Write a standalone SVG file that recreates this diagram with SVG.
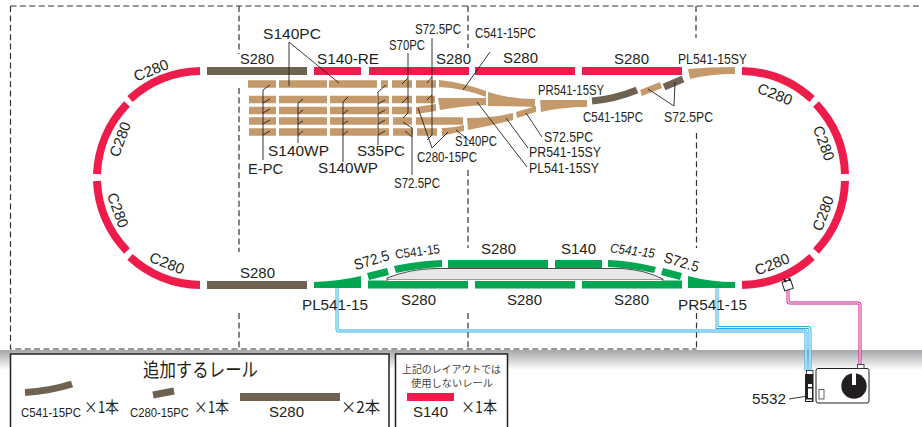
<svg xmlns="http://www.w3.org/2000/svg" width="922" height="427" viewBox="0 0 922 427">
<style>
text{font-family:"Liberation Sans",Arial,"Noto Sans CJK JP",sans-serif;fill:#231f20;font-size:15px}
.c{font-size:14px}
.m{text-anchor:middle}
.j{font-family:"Noto Sans CJK JP",sans-serif}
.tr{fill:none;stroke-width:8}
.red{stroke:#ee1c4b}.tan{stroke:#c49a6c}.br{stroke:#6f6252}.gr{stroke:#00a651}
.ftan{fill:#c49a6c}.fgr{fill:#00a651}
.d{fill:none;stroke:#333;stroke-width:1.2;stroke-dasharray:6 3.4}
.l{fill:none;stroke:#231f20;stroke-width:.9}
</style>
<defs>
<linearGradient id="band" x1="0" y1="0" x2="0" y2="1"><stop offset="0" stop-color="#a4a6a9"/><stop offset="1" stop-color="#fff"/></linearGradient>
</defs>
<rect width="922" height="427" fill="#fff"/>
<rect id="floor" x="0" y="350" width="922" height="20" fill="url(#band)"/>

<g id="frame">
<path class="d" d="M10.500 6H922M10.500 6V349H696.500M239 6V54M239 88V252M239 313V349M468 6V48M468 170V248M468 313V349M696 6V38M696.500 133V248M696.500 313V349"/>
</g>

<g id="oval-curves">
<path class="tr red" d="M200 71A107 107 0 0 0 130 99"/>
<path class="tr red" d="M127 104A107 107 0 0 0 97 174"/>
<path class="tr red" d="M97 181A107 107 0 0 0 127 251"/>
<path class="tr red" d="M130 257A107 107 0 0 0 200 285"/>
<path class="tr red" d="M742 71A107 107 0 0 1 812 99"/>
<path class="tr red" d="M816 104A107 107 0 0 1 845 174"/>
<path class="tr red" d="M845 181A107 107 0 0 1 816 251"/>
<path class="tr red" d="M812 257A107 107 0 0 1 742 285"/>
</g>

<g id="top-track">
<path class="tr br" d="M207 71H307"/>
<path class="tr red" d="M314 71H361M369 71H469M475 71H575M582 71H682"/>
<path class="ftan" d="M688 69Q710 67 735 67V74Q710 74 690 79Z"/>
</g>

<g id="yard">
<path class="tan" fill="none" stroke-width="7.600" d="M248 84H276M279 84H327M329 84H377M381 84H388M392 84H412M416 84H436"/>
<path class="tan" fill="none" stroke-width="7.400" d="M249 99.500H276M279 99.500H327M330 99.500H377M378 99.500H389M392 99.500H412M416 99.500H435"/>
<path class="tan" fill="none" stroke-width="7.400" d="M249 110.500H276M279 110.500H327M330 110.500H377M378 110.500H389M392 110.500H412"/>
<path class="tan" fill="none" stroke-width="7.600" d="M249 121H276M279 121H327M330 121H377M378 121H389M393 121H412M416 121H463"/>
<path class="tan" fill="none" stroke-width="7.600" d="M249 132H276M279 132H327M330 132H377M378 132H389M393 132H413M417 132H437"/>
<path class="ftan" d="M416 107L436 104V111L416 114Z"/>
<path class="ftan" d="M442 128Q452 128 464 125V131Q453 133 442 136Z"/>
<path class="ftan" d="M439 80Q465 83 486 91V97Q463 88 439 87Z"/>
<path class="ftan" d="M438 98Q465 98 486 98V105Q462 106 440 110Z"/>
<path class="ftan" d="M488 92Q510 99 535 99V107Q510 106 488 106Z"/>
<path class="ftan" d="M540 100Q565 100 587 100V107Q562 107 541 112Z"/>
<path class="ftan" d="M467 118Q492 118 513 113L513 120Q490 126 468 130Z"/>
<path class="ftan" d="M516 112L536 106V112L517 118Z"/>
<path class="br" fill="none" stroke-width="7" d="M592 101Q615 99 637 90"/>
<path class="ftan" d="M640 90L660 82L662 88L642 96Z"/>
<path class="br" fill="none" stroke-width="7" d="M664 87L683 79"/>
</g>

<g id="bottom-track">
<path class="tr br" d="M207 285H307"/>
<path class="fgr" d="M314 282Q340 281 361 276V288H314Z"/>
<path class="tr gr" d="M368 284.500H468M475 284.500H575M582 284.500H682"/>
<path class="fgr" d="M688 276Q710 282 735 282V288H688Z"/>
<path class="fgr" d="M367 273L387 268L389 275L369 280Z"/>
<path class="fgr" d="M394 266Q418 261 442 260V267Q419 268 396 273Z"/>
<path class="tr gr" d="M448 264H548M555 264H602"/>
<path class="fgr" d="M608 260Q632 261 656 267L654 273Q632 268 608 267Z"/>
<path class="fgr" d="M663 268L682 273L680 280L661 275Z"/>
<path id="platform" d="M387 278Q410 269 435 268.500H622Q645 270 663 279V280H387Z" fill="#e6e7e8" stroke="#231f20" stroke-width=".8"/>
<path d="M388 280.500H662" stroke="#fff" stroke-width="1"/>
</g>

<g id="connectors">
<path class="l" d="M289 86V42L339 83"/>
<path class="l" d="M263 160V90L270 85M263 103L270 99M263 113L270 109M263 124L270 120M263 135L270 131"/>
<path class="l" d="M298 143V103L303 99M298 114L303 110M298 124L303 121M298 135L303 131"/>
<path class="l" d="M343 162V102L348 97M343 114L348 110M343 124L348 121M343 135L348 131"/>
<path class="l" d="M378 145V92L386 85M378 104L385 100M378 114L385 110M378 124L385 120M378 135L385 131" stroke="#555"/>
<path class="l" d="M408 53V113L403 118M408 78L402 84M408 97L402 103"/>
<path class="l" d="M432 38V135L427 140M432 77L427 83M432 95L427 100" stroke="#555" stroke-width="1.200"/>
<path class="l" d="M412 175V128L403 122M412 137L405 131"/>
<path class="l" d="M418 108L432 148L448 132"/>
<path class="l" d="M471 142L456 130"/>
<path class="l" d="M490 52L463 90"/>
<path class="l" d="M528 148L506 118"/>
<path class="l" d="M527 167L477 102"/>
<path class="l" d="M542 137L526 113"/>
<path class="l" d="M648 89L674 106L675 82"/>
<path class="l" d="M789 399L808 396"/>
</g>

<g id="wires" fill="none">
<path stroke="#29abe2" stroke-width="3" d="M337 288V329Q337 331 339 331H804Q806 331 806 333V371"/>
<path stroke="#fff" stroke-width="1.100" d="M337 288V329Q337 331 339 331H804Q806 331 806 333V371"/>
<path stroke="#29abe2" stroke-width="3" d="M717 288V327.500H808Q810 327.500 810 330V371"/>
<path stroke="#fff" stroke-width="1.100" d="M717 288V327.500H808Q810 327.500 810 330V371"/>
<path stroke="#d4148c" stroke-width="3" d="M788 288V301Q788 303 790 303H858Q860 303 860 305V365"/>
<path stroke="#fff" stroke-width="1.100" d="M788 288V301Q788 303 790 303H858Q860 303 860 305V365"/>
</g>

<g id="feeder">
<rect x="783" y="281" width="9" height="9" fill="#fff" stroke="#231f20" transform="rotate(-18 787 285)"/>
<path d="M784 279l2 3M789 278l1 3" stroke="#231f20" stroke-width="2.200"/>
</g>

<g id="controller">
<rect x="816" y="368.500" width="53" height="34.500" rx="2" fill="#fff" stroke="#231f20" stroke-width="1"/>
<circle cx="854" cy="386" r="12.700" fill="#231f20"/>
<rect x="852" y="373" width="4" height="12" fill="#fff"/>
<rect x="819" y="389.500" width="5" height="9.500" fill="#fff" stroke="#231f20" stroke-width=".7"/>
<rect x="857.500" y="364.500" width="6.500" height="4" fill="#fff" stroke="#231f20" stroke-width=".8"/>
</g>
<g id="connector-5532">
<rect x="806.500" y="370.500" width="6.500" height="4" fill="#fff" stroke="#231f20" stroke-width=".8"/>
<rect x="805" y="374" width="8.500" height="28" fill="#231f20"/>
<rect x="808" y="384" width="4" height="3" fill="#fff"/>
<rect x="808" y="388.500" width="4" height="9.500" fill="#fff"/>
<rect x="806" y="399.500" width="6" height="1.500" fill="#fff"/>
</g>

<g id="legend-add">
<rect x="10.500" y="354" width="378.500" height="80" fill="#fff" stroke="#231f20" stroke-width="1.500"/>
<text x="143" y="377" class="j" style="font-size:19px" textLength="115" lengthAdjust="spacingAndGlyphs">追加するレール</text>
<path class="br" fill="none" stroke-width="7" d="M25 392.500Q50 391 72 384"/>
<path class="br" fill="none" stroke-width="7" d="M153 395L174 391"/>
<path class="br" fill="none" stroke-width="8" d="M240 397H340"/>
<text x="21" y="417" style="font-size:13px" textLength="60" lengthAdjust="spacingAndGlyphs">C541-15PC</text>
<text x="84" y="413" class="j" style="font-size:16px" textLength="35" lengthAdjust="spacingAndGlyphs">×1本</text>
<text x="130" y="417" style="font-size:13px" textLength="59" lengthAdjust="spacingAndGlyphs">C280-15PC</text>
<text x="194" y="413" class="j" style="font-size:16px" textLength="35" lengthAdjust="spacingAndGlyphs">×1本</text>
<text x="269" y="417" textLength="35" lengthAdjust="spacingAndGlyphs">S280</text>
<text x="341" y="413" class="j" style="font-size:16px" textLength="39" lengthAdjust="spacingAndGlyphs">×2本</text>
</g>
<g id="legend-unused">
<rect x="395.500" y="354" width="112" height="80" fill="#fff" stroke="#231f20" stroke-width="1.500"/>
<text x="402" y="373" class="j" style="font-size:10px;fill:#444" textLength="99" lengthAdjust="spacingAndGlyphs">上記のレイアウトでは</text>
<text x="411" y="387" class="j" style="font-size:10px;fill:#444" textLength="82" lengthAdjust="spacingAndGlyphs">使用しないレール</text>
<path class="red" stroke-width="8" d="M407 397H454"/>
<text x="413" y="417" textLength="35" lengthAdjust="spacingAndGlyphs">S140</text>
<text x="461" y="413" class="j" style="font-size:16px" textLength="36" lengthAdjust="spacingAndGlyphs">×1本</text>
</g>

<g id="labels">
<text x="263" y="39" textLength="58" lengthAdjust="spacingAndGlyphs">S140PC</text>
<text x="240" y="64" textLength="34" lengthAdjust="spacingAndGlyphs">S280</text>
<text x="317" y="64" textLength="62" lengthAdjust="spacingAndGlyphs">S140-RE</text>
<text x="436" y="64" textLength="35" lengthAdjust="spacingAndGlyphs">S280</text>
<text x="503" y="63" textLength="35" lengthAdjust="spacingAndGlyphs">S280</text>
<text x="614" y="64" textLength="35" lengthAdjust="spacingAndGlyphs">S280</text>
<text x="389" y="50" class="c" textLength="36" lengthAdjust="spacingAndGlyphs">S70PC</text>
<text x="415" y="34" class="c" textLength="46" lengthAdjust="spacingAndGlyphs">S72.5PC</text>
<text x="475" y="38" class="c" textLength="61" lengthAdjust="spacingAndGlyphs">C541-15PC</text>
<text x="678" y="64" class="c" textLength="69" lengthAdjust="spacingAndGlyphs">PL541-15SY</text>
<text x="538" y="95" class="c" textLength="66" lengthAdjust="spacingAndGlyphs">PR541-15SY</text>
<text x="583" y="122" class="c" textLength="60" lengthAdjust="spacingAndGlyphs">C541-15PC</text>
<text x="664" y="122" class="c" textLength="49" lengthAdjust="spacingAndGlyphs">S72.5PC</text>
<text x="544" y="142" class="c" textLength="49" lengthAdjust="spacingAndGlyphs">S72.5PC</text>
<text x="455" y="146" class="c" textLength="42" lengthAdjust="spacingAndGlyphs">S140PC</text>
<text x="529" y="157" class="c" textLength="72" lengthAdjust="spacingAndGlyphs">PR541-15SY</text>
<text x="529" y="173" class="c" textLength="70" lengthAdjust="spacingAndGlyphs">PL541-15SY</text>
<text x="268" y="156" textLength="61" lengthAdjust="spacingAndGlyphs">S140WP</text>
<text x="248" y="174" textLength="35" lengthAdjust="spacingAndGlyphs">E-PC</text>
<text x="318" y="173" textLength="60" lengthAdjust="spacingAndGlyphs">S140WP</text>
<text x="357" y="156" textLength="48" lengthAdjust="spacingAndGlyphs">S35PC</text>
<text x="417" y="162" class="c" textLength="60" lengthAdjust="spacingAndGlyphs">C280-15PC</text>
<text x="394" y="188" class="c" textLength="46" lengthAdjust="spacingAndGlyphs">S72.5PC</text>
<text class="m" transform="translate(153 75) rotate(-22)" textLength="36" lengthAdjust="spacingAndGlyphs">C280</text>
<text class="m" transform="translate(125 141) rotate(-70)" textLength="36" lengthAdjust="spacingAndGlyphs">C280</text>
<text class="m" transform="translate(113 212) rotate(70)" textLength="36" lengthAdjust="spacingAndGlyphs">C280</text>
<text class="m" transform="translate(165 268) rotate(22)" textLength="36" lengthAdjust="spacingAndGlyphs">C280</text>
<text class="m" transform="translate(773 99) rotate(22)" textLength="36" lengthAdjust="spacingAndGlyphs">C280</text>
<text class="m" transform="translate(819 145) rotate(70)" textLength="36" lengthAdjust="spacingAndGlyphs">C280</text>
<text class="m" transform="translate(828 215) rotate(-70)" textLength="36" lengthAdjust="spacingAndGlyphs">C280</text>
<text class="m" transform="translate(774 269) rotate(-22)" textLength="36" lengthAdjust="spacingAndGlyphs">C280</text>
<text class="m" transform="translate(373 265) rotate(-17)" textLength="36" lengthAdjust="spacingAndGlyphs">S72.5</text>
<text class="m" style="font-size:13px" transform="translate(418 256) rotate(-7)" textLength="45" lengthAdjust="spacingAndGlyphs">C541-15</text>
<text class="m" style="font-size:13px;font-style:italic" transform="translate(632 255) rotate(7)" textLength="45" lengthAdjust="spacingAndGlyphs">C541-15</text>
<text class="m" transform="translate(680 267) rotate(17)" textLength="36" lengthAdjust="spacingAndGlyphs">S72.5</text>
<text x="240" y="278" textLength="35" lengthAdjust="spacingAndGlyphs">S280</text>
<text x="481" y="254" textLength="35" lengthAdjust="spacingAndGlyphs">S280</text>
<text x="561" y="254" textLength="35" lengthAdjust="spacingAndGlyphs">S140</text>
<text x="401" y="305" textLength="35" lengthAdjust="spacingAndGlyphs">S280</text>
<text x="507" y="305" textLength="35" lengthAdjust="spacingAndGlyphs">S280</text>
<text x="614" y="305" textLength="35" lengthAdjust="spacingAndGlyphs">S280</text>
<text x="302" y="310" textLength="66" lengthAdjust="spacingAndGlyphs">PL541-15</text>
<text x="678" y="310" textLength="69" lengthAdjust="spacingAndGlyphs">PR541-15</text>
<text x="752" y="404" textLength="34" lengthAdjust="spacingAndGlyphs">5532</text>
</g>
</svg>
